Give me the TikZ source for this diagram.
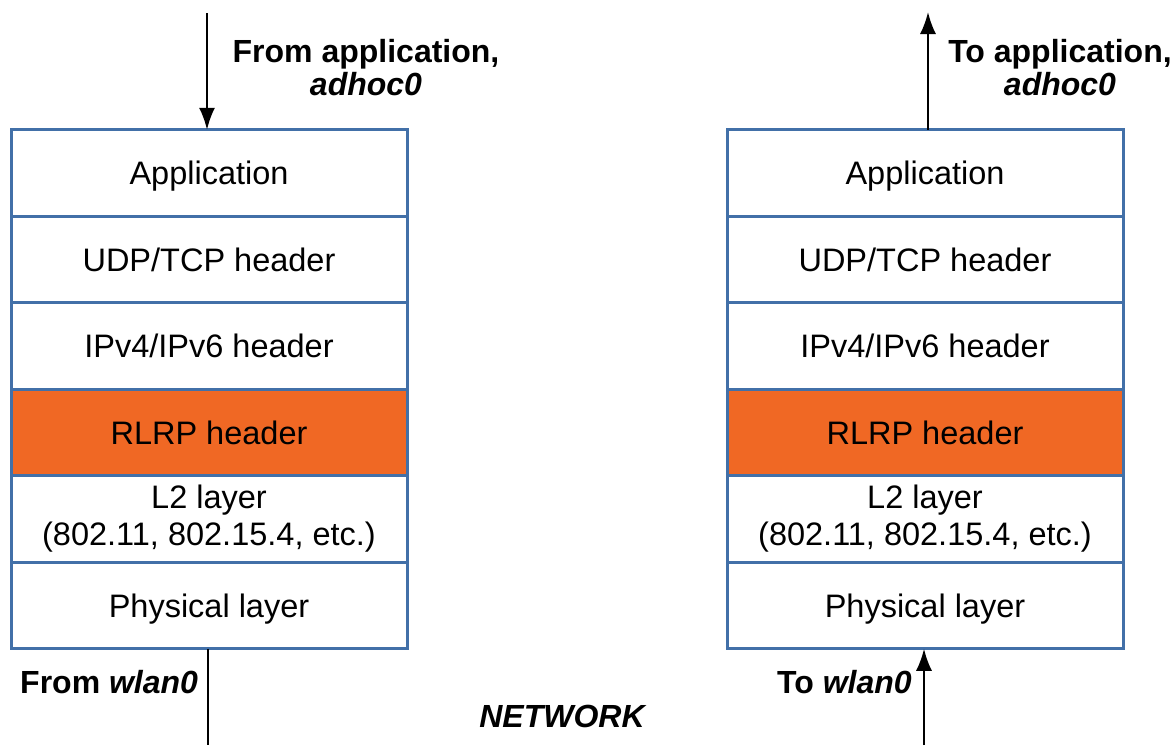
\documentclass[tikz,border=0pt]{standalone}
\usepackage{fontspec}
\setmainfont{Liberation Sans}
\usetikzlibrary{arrows.meta}
\definecolor{bblue}{RGB}{66,112,168}
\definecolor{rorange}{RGB}{240,104,36}
\begin{document}
\begin{tikzpicture}[x=1pt,y=-1pt,
  font=\fontsize{32.5}{37}\selectfont,
  layer/.style={draw=bblue, line width=3pt, minimum width=396pt, minimum height=86.5pt,
    inner sep=0pt, outer sep=0pt, fill=white, align=center},
  one/.style={layer, text height=23pt, text depth=0pt},
  hot/.style={one, fill=rorange},
  arr/.style={line width=2pt, -{Latex[length=22pt,width=16pt]}},
  plain/.style={line width=2pt},
  lbl/.style={font=\fontsize{32}{33}\selectfont\bfseries, inner sep=0pt, align=center}]
\useasboundingbox (0,0) rectangle (1176,745);
% left stack
\node[one]   (L1) at (209,173) {Application};
\node[one]   (L2) at (209,259.5) {UDP/TCP header};
\node[one]   (L3) at (209,346) {IPv4/IPv6 header};
\node[hot]   (L4) at (209,432.5) {RLRP header};
\node[layer] (L5) at (209,519) {L2 layer\\(802.11, 802.15.4, etc.)};
\node[one]   (L6) at (209,605.5) {Physical layer};
% right stack
\node[one]   (R1) at (925,173) {Application};
\node[one]   (R2) at (925,259.5) {UDP/TCP header};
\node[one]   (R3) at (925,346) {IPv4/IPv6 header};
\node[hot]   (R4) at (925,432.5) {RLRP header};
\node[layer] (R5) at (925,519) {L2 layer\\(802.11, 802.15.4, etc.)};
\node[one]   (R6) at (925,605.5) {Physical layer};
% connectors
\coordinate (lt) at (207,13);
\coordinate (rt) at (928,12);
\coordinate (lb) at (208,745);
\coordinate (rb) at (924,745);
\draw[arr] (lt) -- (lt |- L1.north);
\draw[arr] (rt |- R1.north) -- (rt);
\draw[plain] (lb |- L6.south) -- (lb);
\draw[arr] (rb) -- (rb |- R6.south);
% labels
\node[lbl] (tl) at (366,68) {From application,\\\textit{adhoc0}};
\node[lbl] (tr) at (1060,68) {To application,\\\textit{adhoc0}};
\node[lbl, anchor=base west] (bl) at (20,693) {From \textit{wlan0}};
\node[lbl, anchor=base west] (br) at (777,693) {To \textit{wlan0}};
\node[lbl, anchor=base] (net) at (563,727) {\textit{NETWORK}};
\end{tikzpicture}
\end{document}
